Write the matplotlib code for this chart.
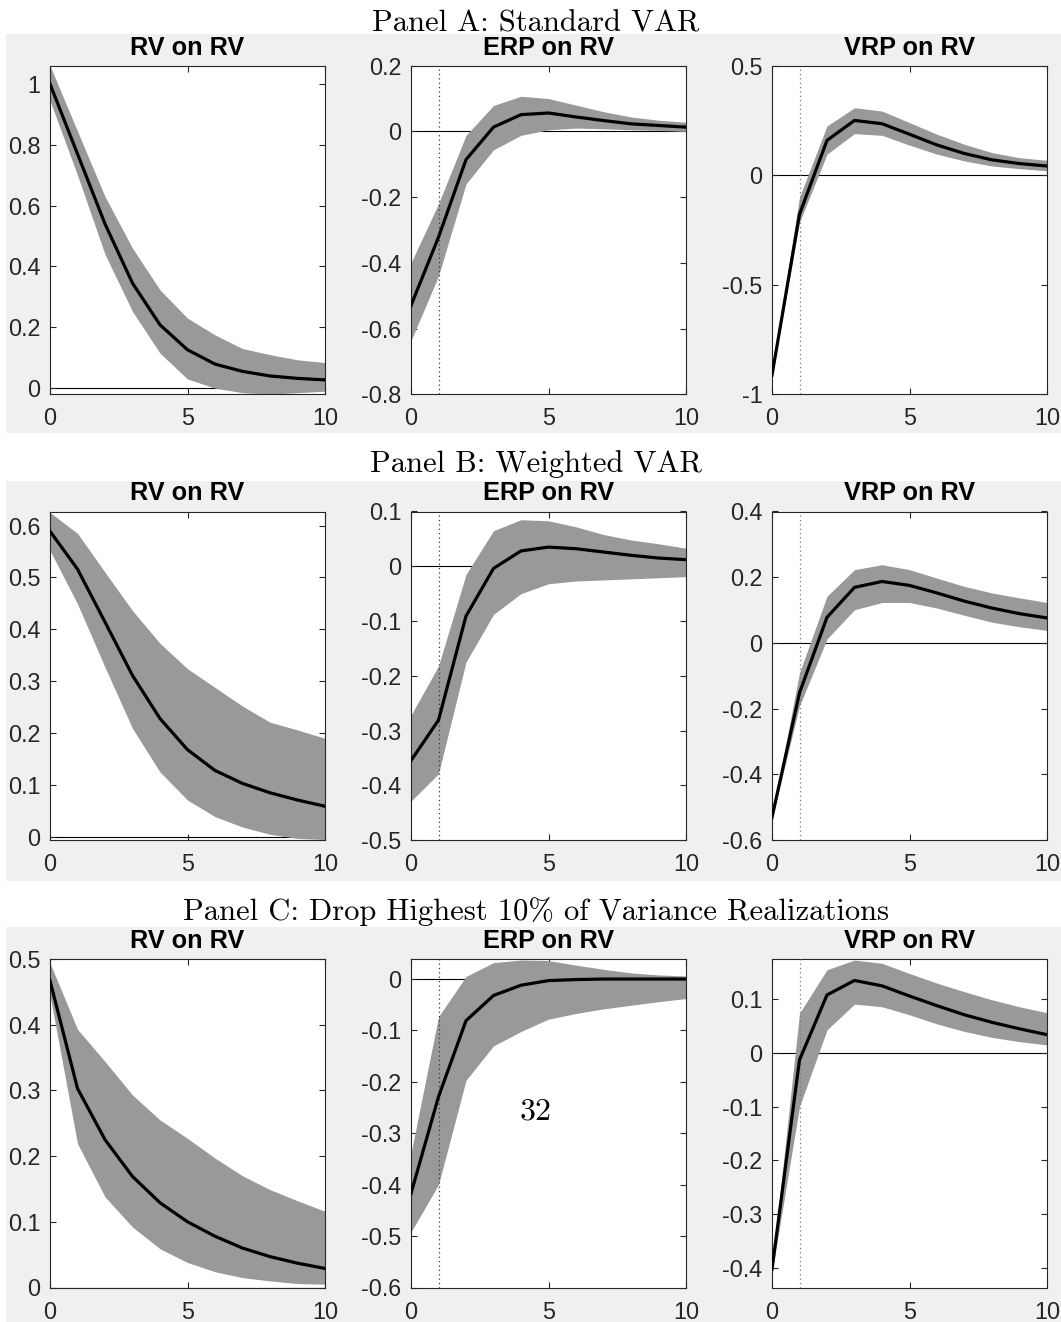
import matplotlib

matplotlib.use("Agg")
import matplotlib.pyplot as plt
from matplotlib.patches import Rectangle
from matplotlib.ticker import FuncFormatter, MultipleLocator

W, H = 1061, 1322

horizon = list(range(11))

panel_titles = [
    "Panel A: Standard VAR",
    "Panel B: Weighted VAR",
    "Panel C: Drop Highest 10% of Variance Realizations",
]
plot_titles = ["RV on RV", "ERP on RV", "VRP on RV"]

# Panel A: standard VAR
a_rv_mid = [1.0, 0.77, 0.54, 0.345, 0.208, 0.126, 0.079, 0.055, 0.04, 0.032, 0.027]
a_rv_lo = [0.945, 0.70, 0.44, 0.252, 0.115, 0.03, 0.0, -0.015, -0.02, -0.015, -0.01]
a_rv_hi = [1.06, 0.845, 0.63, 0.46, 0.323, 0.23, 0.175, 0.13, 0.11, 0.093, 0.084]

a_erp_mid = [-0.53, -0.322, -0.086, 0.013, 0.051, 0.056, 0.044, 0.033, 0.023, 0.018, 0.013]
a_erp_lo = [-0.637, -0.44, -0.16, -0.056, -0.012, 0.005, 0.01, 0.008, 0.005, 0.003, 0.0]
a_erp_hi = [-0.40, -0.22, -0.012, 0.079, 0.107, 0.10, 0.08, 0.06, 0.044, 0.034, 0.028]

a_vrp_mid = [-0.913, -0.178, 0.159, 0.25, 0.235, 0.187, 0.138, 0.099, 0.07, 0.053, 0.042]
a_vrp_lo = [-0.92, -0.215, 0.096, 0.19, 0.182, 0.137, 0.096, 0.065, 0.042, 0.03, 0.02]
a_vrp_hi = [-0.905, -0.10, 0.225, 0.308, 0.293, 0.24, 0.187, 0.141, 0.103, 0.08, 0.068]

# Panel B: weighted VAR
b_rv_mid = [0.589, 0.516, 0.414, 0.311, 0.228, 0.168, 0.128, 0.103, 0.085, 0.071, 0.059]
b_rv_lo = [0.552, 0.449, 0.327, 0.209, 0.125, 0.071, 0.039, 0.019, 0.005, -0.003, -0.005]
b_rv_hi = [0.625, 0.585, 0.51, 0.436, 0.373, 0.324, 0.288, 0.252, 0.221, 0.206, 0.19]

b_erp_mid = [-0.355, -0.281, -0.091, -0.004, 0.028, 0.035, 0.032, 0.026, 0.02, 0.015, 0.012]
b_erp_lo = [-0.429, -0.379, -0.175, -0.088, -0.05, -0.032, -0.027, -0.025, -0.023, -0.021, -0.019]
b_erp_hi = [-0.272, -0.182, -0.015, 0.065, 0.085, 0.083, 0.072, 0.058, 0.048, 0.041, 0.033]

b_vrp_mid = [-0.531, -0.152, 0.078, 0.169, 0.187, 0.175, 0.152, 0.127, 0.106, 0.089, 0.076]
b_vrp_lo = [-0.535, -0.192, 0.012, 0.101, 0.123, 0.123, 0.106, 0.084, 0.063, 0.049, 0.038]
b_vrp_hi = [-0.527, -0.091, 0.142, 0.223, 0.238, 0.223, 0.197, 0.172, 0.152, 0.137, 0.123]

# Panel C: drop highest 10% of variance realizations
c_rv_mid = [0.467, 0.303, 0.225, 0.169, 0.129, 0.1, 0.078, 0.06, 0.047, 0.037, 0.029]
c_rv_lo = [0.445, 0.219, 0.138, 0.092, 0.059, 0.038, 0.024, 0.015, 0.01, 0.006, 0.005]
c_rv_hi = [0.494, 0.393, 0.344, 0.293, 0.255, 0.227, 0.197, 0.17, 0.149, 0.132, 0.116]

c_erp_mid = [-0.417, -0.229, -0.081, -0.032, -0.012, -0.003, -0.001, 0.0, 0.0, 0.0, 0.0]
c_erp_lo = [-0.492, -0.40, -0.197, -0.13, -0.102, -0.078, -0.067, -0.058, -0.051, -0.044, -0.038]
c_erp_hi = [-0.339, -0.073, 0.005, 0.032, 0.037, 0.036, 0.027, 0.019, 0.012, 0.008, 0.006]

c_vrp_mid = [-0.403, -0.013, 0.108, 0.135, 0.125, 0.106, 0.088, 0.071, 0.057, 0.045, 0.034]
c_vrp_lo = [-0.41, -0.10, 0.043, 0.091, 0.086, 0.071, 0.054, 0.04, 0.029, 0.021, 0.015]
c_vrp_hi = [-0.40, 0.074, 0.155, 0.173, 0.167, 0.148, 0.13, 0.114, 0.099, 0.086, 0.075]

y_limits = [
    [(-0.02, 1.06), (-0.8, 0.2), (-1.0, 0.5)],
    [(-0.006, 0.627), (-0.5, 0.1), (-0.6, 0.4)],
    [(0.0, 0.5), (-0.6, 0.039), (-0.437, 0.175)],
]
y_steps = [[0.2, 0.2, 0.5], [0.1, 0.1, 0.2], [0.1, 0.1, 0.1]]

panels = [
    [(a_rv_mid, a_rv_lo, a_rv_hi), (a_erp_mid, a_erp_lo, a_erp_hi), (a_vrp_mid, a_vrp_lo, a_vrp_hi)],
    [(b_rv_mid, b_rv_lo, b_rv_hi), (b_erp_mid, b_erp_lo, b_erp_hi), (b_vrp_mid, b_vrp_lo, b_vrp_hi)],
    [(c_rv_mid, c_rv_lo, c_rv_hi), (c_erp_mid, c_erp_lo, c_erp_hi), (c_vrp_mid, c_vrp_lo, c_vrp_hi)],
]


def main():
    plt.rcParams["axes.unicode_minus"] = False
    plt.rcParams["font.family"] = ["Liberation Sans", "DejaVu Sans"]
    axis_gray = "#262626"

    fig = plt.figure(figsize=(W / 100, H / 100), dpi=100)
    fig.patch.set_facecolor("white")

    # grey MATLAB figure backgrounds, one per panel (pixel rows from top)
    strips = [(34, 433), (481, 881), (927, 1322)]
    for top, bottom in strips:
        fig.add_artist(
            Rectangle((6 / W, 1 - bottom / H), 1 - 6 / W, (bottom - top) / H,
                      transform=fig.transFigure, facecolor="#f0f0f0", edgecolor="none", zorder=-10)
        )

    title_baselines = [32, 472, 920]
    for title, base in zip(panel_titles, title_baselines):
        fig.text(536 / W, 1 - base / H, title, family="cmr10", fontsize=22,
                 ha="center", va="baseline")

    col_left = [50, 411, 772]
    row_top = [65.7, 511.5, 959]
    ax_w, ax_h = 275, 328.5

    fmt = FuncFormatter(lambda v, pos: "{:g}".format(round(v, 6)))

    for r, row in enumerate(panels):
        for c, (mid, lo, hi) in enumerate(row):
            ax = fig.add_axes([col_left[c] / W, 1 - (row_top[r] + ax_h) / H, ax_w / W, ax_h / H])
            ax.axhline(0, color="black", lw=0.8, zorder=1)
            ax.fill_between(horizon, lo, hi, color="#999999", lw=0, zorder=2)
            if c > 0:
                dot_col = "#333333" if c == 1 else "#777777"
                ax.axvline(1, color=dot_col, lw=0.9, ls=(0, (1, 2.5)), zorder=3)
            ax.plot(horizon, mid, color="black", lw=2.3, zorder=4, solid_joinstyle="round")

            ax.set_xlim(0, 10)
            ax.set_ylim(*y_limits[r][c])
            ax.xaxis.set_major_locator(MultipleLocator(5))
            ax.yaxis.set_major_locator(MultipleLocator(y_steps[r][c]))
            ax.yaxis.set_major_formatter(fmt)
            ax.xaxis.set_major_formatter(fmt)
            ax.tick_params(direction="in", length=4, width=0.8, color=axis_gray,
                           labelcolor=axis_gray, labelsize=16.8, top=True, right=True)
            ax.tick_params(axis="y", pad=7)
            ax.tick_params(axis="x", pad=9.5)
            for s in ax.spines.values():
                s.set_color(axis_gray)
                s.set_linewidth(0.8)
            ax.set_title(plot_titles[c], fontsize=18.2, fontweight="bold", pad=8)

    fig.text(536 / W, 1 - 1112 / H, "32", family="cmr10", fontsize=23, ha="center", va="center")

    fig.savefig("out.png", dpi=100, facecolor="white")


if __name__ == "__main__":
    main()
